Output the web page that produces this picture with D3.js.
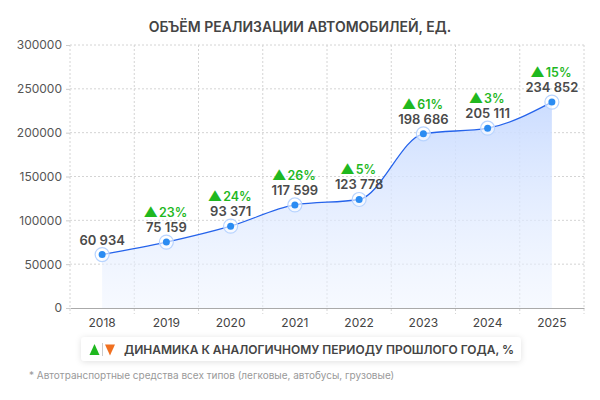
<!DOCTYPE html>
<html>
<head>
<meta charset="utf-8">
<script src="https://cdn.jsdelivr.net/npm/d3@7"></script>
<style>
  body { margin: 0; background: #fff; font-family: Inter, "Noto Sans", sans-serif; }
  svg { display: block; }
</style>
</head>
<body>
<div id="chart"></div>
<script>
const years = ["2018", "2019", "2020", "2021", "2022", "2023", "2024", "2025"];
const sales = [60934, 75159, 93371, 117599, 123778, 198686, 205111, 234852];
const growth = [null, 23, 24, 26, 5, 61, 3, 15];
const yTicks = [0, 50000, 100000, 150000, 200000, 250000, 300000];

const width = 600;
const height = 400;
const margin = { top: 45, right: 16, bottom: 92, left: 70 };

const svg = d3.select("#chart")
    .append("svg")
    .attr("width", width)
    .attr("height", height);

const defs = svg.append("defs");
const grad = defs.append("linearGradient")
    .attr("id", "areaFill")
    .attr("x1", 0).attr("y1", 0).attr("x2", 0).attr("y2", 1);
grad.append("stop").attr("offset", "0%").attr("stop-color", "#c9dbff").attr("stop-opacity", 0.95);
grad.append("stop").attr("offset", "100%").attr("stop-color", "#eef4ff").attr("stop-opacity", 0.5);

const shadow = defs.append("filter").attr("id", "shadow")
    .attr("x", "-10%").attr("y", "-50%").attr("width", "120%").attr("height", "200%");
shadow.append("feDropShadow")
    .attr("dx", 0).attr("dy", 1).attr("stdDeviation", 3)
    .attr("flood-color", "#000").attr("flood-opacity", 0.12);

const x = d3.scaleBand()
    .domain(years)
    .range([margin.left, width - margin.right]);

const y = d3.scaleLinear()
    .domain([0, 300000])
    .range([height - margin.bottom, margin.top]);

const cx = d => x(d) + x.bandwidth() / 2;

// title
svg.append("text")
    .attr("x", width / 2)
    .attr("y", 32)
    .attr("text-anchor", "middle")
    .attr("font-size", 14)
    .attr("font-weight", 600)
    .attr("fill", "#444")
    .text("ОБЪЁМ РЕАЛИЗАЦИИ АВТОМОБИЛЕЙ, ЕД.");

// horizontal grid
svg.append("g")
    .selectAll("line")
    .data(yTicks.slice(1))
    .join("line")
    .attr("x1", margin.left)
    .attr("x2", width - margin.right)
    .attr("y1", d => y(d))
    .attr("y2", d => y(d))
    .attr("stroke", "#d4d4d4")
    .attr("stroke-dasharray", "2,2");

// vertical grid at band edges
const edges = years.map(d => x(d)).concat([x(years[years.length - 1]) + x.bandwidth()]);
svg.append("g")
    .selectAll("line")
    .data(edges)
    .join("line")
    .attr("x1", d => d)
    .attr("x2", d => d)
    .attr("y1", margin.top)
    .attr("y2", height - margin.bottom + 6)
    .attr("stroke", "#d4d4d4")
    .attr("stroke-dasharray", "2,2");

// y axis
const yAxis = svg.append("g")
    .attr("transform", `translate(${margin.left},0)`)
    .call(d3.axisLeft(y).tickValues(yTicks).tickSize(4).tickPadding(4).tickFormat(d3.format("d")));
yAxis.select(".domain").remove();
yAxis.selectAll(".tick line").attr("stroke", "#ccc");
yAxis.selectAll("text")
    .attr("font-family", "Inter, sans-serif")
    .attr("font-size", 12)
    .attr("fill", "#555");

// x axis
const xAxis = svg.append("g")
    .attr("transform", `translate(0,${height - margin.bottom})`)
    .call(d3.axisBottom(x).tickSize(0).tickPadding(10));
xAxis.select(".domain").attr("stroke", "#aaa");
xAxis.selectAll("text")
    .attr("font-family", "Inter, sans-serif")
    .attr("font-size", 12)
    .attr("fill", "#444");

const points = years.map((d, i) => ({ year: d, value: sales[i], growth: growth[i] }));

const area = d3.area()
    .x(d => cx(d.year))
    .y0(y(0))
    .y1(d => y(d.value))
    .curve(d3.curveMonotoneX);

const line = d3.line()
    .x(d => cx(d.year))
    .y(d => y(d.value))
    .curve(d3.curveMonotoneX);

svg.append("path")
    .datum(points)
    .attr("d", area)
    .attr("fill", "url(#areaFill)");

svg.append("path")
    .datum(points)
    .attr("d", line)
    .attr("fill", "none")
    .attr("stroke", "#2563eb")
    .attr("stroke-width", 1.3);

const pts = svg.append("g")
    .selectAll("g")
    .data(points)
    .join("g")
    .attr("transform", d => `translate(${cx(d.year)},${y(d.value)})`);

pts.append("circle")
    .attr("r", 7)
    .attr("fill", "#fff")
    .attr("fill-opacity", 0.6)
    .attr("stroke", "#b8d4ff")
    .attr("stroke-width", 1.2);

pts.append("circle")
    .attr("r", 3.5)
    .attr("fill", "#2b8cf2");

pts.append("text")
    .attr("y", -10)
    .attr("text-anchor", "middle")
    .attr("font-size", 13)
    .attr("font-weight", 600)
    .attr("fill", "#4a4a4a")
    .text(d => d3.format(",")(d.value).replace(/,/g, " "));

const pct = pts.filter(d => d.growth !== null)
    .append("text")
    .attr("y", -25)
    .attr("text-anchor", "middle")
    .attr("font-size", 12.5)
    .attr("font-weight", 600)
    .attr("fill", "#1fb81f");
pct.append("tspan").attr("font-size", 14).attr("dx", -1).text("▲");
pct.append("tspan").attr("dx", 1).text(d => d.growth + "%");

// legend
const legend = svg.append("g").attr("transform", "translate(81,337)");
legend.append("rect")
    .attr("width", 440)
    .attr("height", 24)
    .attr("rx", 4)
    .attr("fill", "#fff")
    .attr("filter", "url(#shadow)");
legend.append("path")
    .attr("d", "M8.5,18 L13.5,7 L18.5,18 Z")
    .attr("fill", "#1fb81f");
legend.append("line")
    .attr("x1", 21.5).attr("x2", 21.5)
    .attr("y1", 6).attr("y2", 19)
    .attr("stroke", "#ccc");
legend.append("path")
    .attr("d", "M24,7.5 L34,7.5 L29,18.5 Z")
    .attr("fill", "#f07020");
legend.append("text")
    .attr("x", 43)
    .attr("y", 16.5)
    .attr("font-size", 12)
    .attr("font-weight", 600)
    .attr("fill", "#444")
    .text("ДИНАМИКА К АНАЛОГИЧНОМУ ПЕРИОДУ ПРОШЛОГО ГОДА, %");

// footnote
svg.append("text")
    .attr("x", 29)
    .attr("y", 379)
    .attr("font-size", 10)
    .attr("fill", "#999")
    .text("* Автотранспортные средства всех типов (легковые, автобусы, грузовые)");
</script>
</body>
</html>
